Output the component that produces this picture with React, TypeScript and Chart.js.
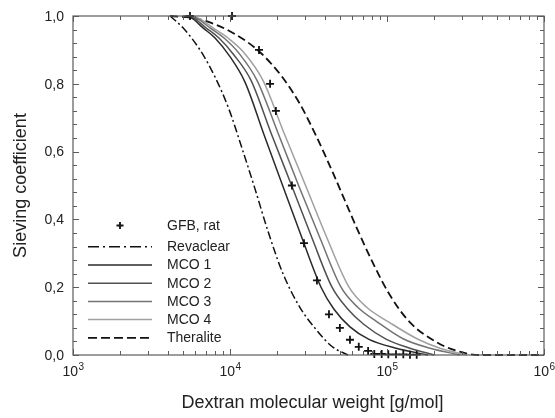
import React, { useEffect, useRef } from "react";
import { Chart, registerables } from "chart.js";

Chart.register(...registerables);

// ---------- Data ----------
const gfbMw = [5560, 10300, 15300, 18000, 19600, 24800, 29600, 35800, 42700, 50100, 58100, 66100, 75800, 83000, 92500, 101900, 114100, 127000, 140100, 154600];
const gfbSc = [1.0, 1.0, 0.9, 0.8, 0.72, 0.5, 0.33, 0.22, 0.12, 0.08, 0.045, 0.024, 0.012, 0.003, 0.003, 0.002, 0.002, 0.002, 0.001, 0.001];

const revaclearMw = [4150, 5020, 6440, 8030, 9850, 11920, 14430, 17460, 21750, 27920, 35820, 44640, 56440];
const revaclearSc = [1.0, 0.965, 0.9, 0.82, 0.725, 0.61, 0.49, 0.365, 0.24, 0.14, 0.072, 0.025, 0.0];

const mco1Mw = [5020, 5730, 6730, 8030, 10000, 12460, 16470, 21750, 28750, 37990, 45970, 58120, 76790, 114100, 182450];
const mco1Sc = [1.0, 0.993, 0.965, 0.935, 0.88, 0.805, 0.65, 0.497, 0.345, 0.2, 0.135, 0.083, 0.046, 0.02, 0.0];

const mco2Mw = [5170, 5900, 7030, 8510, 10600, 13610, 18250, 24830, 33290, 44640, 55620, 71360, 98540, 140100, 199200];
const mco2Sc = [1.0, 0.993, 0.965, 0.935, 0.885, 0.81, 0.655, 0.497, 0.345, 0.2, 0.138, 0.09, 0.047, 0.02, 0.0];

const mco3Mw = [5320, 6160, 7460, 9160, 11410, 14860, 20220, 27510, 37430, 50940, 65350, 86360, 126450, 187890, 291720];
const mco3Sc = [1.0, 0.993, 0.965, 0.935, 0.89, 0.81, 0.655, 0.497, 0.345, 0.2, 0.14, 0.098, 0.048, 0.02, 0.0];

const mco4Mw = [5480, 6350, 7790, 9710, 12100, 16220, 22080, 30480, 41480, 57280, 74580, 104500, 155260, 217550, 323250];
const mco4Sc = [1.0, 0.993, 0.965, 0.935, 0.895, 0.81, 0.655, 0.497, 0.345, 0.2, 0.14, 0.095, 0.048, 0.02, 0.0];

const theraliteMw = [4150, 6440, 10450, 15530, 21750, 27920, 35820, 45290, 54010, 64410, 81440, 104500, 140100, 208190, 279170, 391150, 1000000];
const theraliteSc = [1.0, 0.99, 0.95, 0.893, 0.817, 0.74, 0.641, 0.537, 0.455, 0.373, 0.271, 0.176, 0.096, 0.037, 0.012, 0.0, 0.0];

const seriesLabels = ["GFB, rat", "Revaclear", "MCO 1", "MCO 2", "MCO 3", "MCO 4", "Theralite"];

const xMin = 1000;
const xMax = 1000000;
const xDecadeExponents = ["3", "4", "5", "6"];
const yTickValues = [0, 0.2, 0.4, 0.6, 0.8, 1.0];
const yTickLabels = ["0,0", "0,2", "0,4", "0,6", "0,8", "1,0"];
const xTitle = "Dextran molecular weight [g/mol]";
const yTitle = "Sieving coefficient";

// ---------- Styles ----------
const FONT = '"Liberation Sans", Arial, Helvetica, sans-serif';
const TEXT = "#222222";
const FRAME = "#5c5c5c";

const pts = (xs: number[], ys: number[]) => xs.map((x, i) => ({ x, y: ys[i] }));

const decorPlugin = {
  id: "decor",
  afterDraw(chart: any) {
    const ctx: CanvasRenderingContext2D = chart.ctx;
    const { left, right, top, bottom } = chart.chartArea;
    const xs = chart.scales.x;
    const ys = chart.scales.y;
    ctx.save();

    // frame
    ctx.strokeStyle = FRAME;
    ctx.lineWidth = 1.2;
    ctx.strokeRect(left, top, right - left, bottom - top);

    // x ticks (inward, bottom and top)
    ctx.lineWidth = 1;
    for (let d = 3; d <= 6; d++) {
      for (let m = 1; m <= 9; m++) {
        const v = m * Math.pow(10, d);
        if (v > xMax) break;
        const px = Math.round(xs.getPixelForValue(v)) + 0.5;
        const len = m === 1 ? 6 : 4;
        ctx.beginPath();
        ctx.moveTo(px, bottom);
        ctx.lineTo(px, bottom - len);
        ctx.moveTo(px, top);
        ctx.lineTo(px, top + len);
        ctx.stroke();
      }
    }
    // y ticks (inward, left and right), every 0.04
    for (let i = 0; i <= 25; i++) {
      const v = i * 0.04;
      const py = Math.round(ys.getPixelForValue(v)) + 0.5;
      const len = i % 5 === 0 ? 6 : 4;
      ctx.beginPath();
      ctx.moveTo(left, py);
      ctx.lineTo(left + len, py);
      ctx.moveTo(right, py);
      ctx.lineTo(right - len, py);
      ctx.stroke();
    }

    // y tick labels
    ctx.fillStyle = TEXT;
    ctx.font = `14px ${FONT}`;
    ctx.textAlign = "right";
    ctx.textBaseline = "middle";
    yTickValues.forEach((v, i) => {
      ctx.fillText(yTickLabels[i], left - 9, ys.getPixelForValue(v) + 1);
    });

    // x tick labels 10^n
    ctx.textBaseline = "alphabetic";
    ctx.textAlign = "left";
    xDecadeExponents.forEach((e) => {
      const v = Math.pow(10, Number(e));
      const px = xs.getPixelForValue(v);
      ctx.font = `14px ${FONT}`;
      const wb = ctx.measureText("10").width;
      ctx.font = `10px ${FONT}`;
      const we = ctx.measureText(e).width;
      const x0 = px - (wb + we) / 2;
      ctx.font = `14px ${FONT}`;
      ctx.fillText("10", x0, bottom + 21);
      ctx.font = `10px ${FONT}`;
      ctx.fillText(e, x0 + wb + 0.5, bottom + 15);
    });

    // axis titles
    ctx.font = `18px ${FONT}`;
    ctx.textAlign = "center";
    ctx.textBaseline = "middle";
    ctx.fillText(xTitle, (left + right) / 2 + 4, bottom + 48);
    ctx.save();
    ctx.translate(21, (top + bottom) / 2);
    ctx.rotate(-Math.PI / 2);
    ctx.fillText(yTitle, 0, 0);
    ctx.restore();

    // legend
    const lx0 = 88;
    const lx1 = 152;
    const tx = 167;
    const rowY = (i: number) => (i === 0 ? 225.5 : 246.8 + (i - 1) * 18.2);
    chart.data.datasets.forEach((ds: any, i: number) => {
      const y = rowY(i);
      if (i === 0) {
        ctx.strokeStyle = ds.pointBorderColor || ds.borderColor;
        ctx.lineWidth = 1.8;
        ctx.setLineDash([]);
        const cx = (lx0 + lx1) / 2;
        ctx.beginPath();
        ctx.moveTo(cx - 3.5, y);
        ctx.lineTo(cx + 3.5, y);
        ctx.moveTo(cx, y - 3.5);
        ctx.lineTo(cx, y + 3.5);
        ctx.stroke();
      } else {
        ctx.strokeStyle = ds.borderColor;
        ctx.lineWidth = ds.borderWidth;
        ctx.setLineDash(ds.legendDash || ds.borderDash || []);
        ctx.beginPath();
        ctx.moveTo(lx0, y);
        ctx.lineTo(lx1, y);
        ctx.stroke();
      }
      ctx.setLineDash([]);
      ctx.fillStyle = TEXT;
      ctx.font = `14px ${FONT}`;
      ctx.textAlign = "left";
      ctx.textBaseline = "middle";
      ctx.fillText(ds.label, tx, y + 0.5);
    });

    ctx.restore();
  },
};

export default function App() {
  const canvasRef = useRef<HTMLCanvasElement | null>(null);

  useEffect(() => {
    if (!canvasRef.current) return;
    const lineDs = (label: string, xsArr: number[], ysArr: number[], color: string, width: number, dash: number[] = [], legendDash?: number[]) => ({
      label,
      data: pts(xsArr, ysArr),
      borderColor: color,
      backgroundColor: color,
      borderWidth: width,
      borderDash: dash,
      legendDash,
      pointRadius: 0,
      fill: false,
      cubicInterpolationMode: "monotone" as const,
      clip: 4,
    });

    const chart = new Chart(canvasRef.current, {
      type: "line",
      data: {
        datasets: [
          {
            label: seriesLabels[0],
            data: pts(gfbMw, gfbSc),
            showLine: false,
            pointStyle: "cross",
            pointRadius: 4,
            pointBorderWidth: 1.8,
            borderColor: "#111111",
            pointBorderColor: "#111111",
            backgroundColor: "#111111",
            clip: false,
          } as any,
          lineDs(seriesLabels[1], revaclearMw, revaclearSc, "#111111", 1.5, [8, 3, 2, 3], [11, 4, 2, 4]),
          lineDs(seriesLabels[2], mco1Mw, mco1Sc, "#2a2a2a", 1.5),
          lineDs(seriesLabels[3], mco2Mw, mco2Sc, "#505050", 1.5),
          lineDs(seriesLabels[4], mco3Mw, mco3Sc, "#737373", 1.5),
          lineDs(seriesLabels[5], mco4Mw, mco4Sc, "#a0a0a0", 1.5),
          lineDs(seriesLabels[6], theraliteMw, theraliteSc, "#111111", 1.8, [8, 4], [9, 4]),
        ],
      },
      options: {
        responsive: false,
        animation: false,
        devicePixelRatio: 1,
        layout: { padding: { left: 73, top: 16, right: 11, bottom: 63 } },
        plugins: { legend: { display: false }, tooltip: { enabled: false } },
        scales: {
          x: { type: "logarithmic", min: xMin, max: xMax, display: false },
          y: { type: "linear", min: 0, max: 1, display: false },
        },
      },
      plugins: [decorPlugin],
    });
    return () => chart.destroy();
  }, []);

  return (
    <div style={{ position: "fixed", left: 0, top: 0, width: 555, height: 418, background: "#ffffff" }}>
      <canvas ref={canvasRef} width={555} height={418} style={{ width: 555, height: 418, display: "block" }} />
    </div>
  );
}
